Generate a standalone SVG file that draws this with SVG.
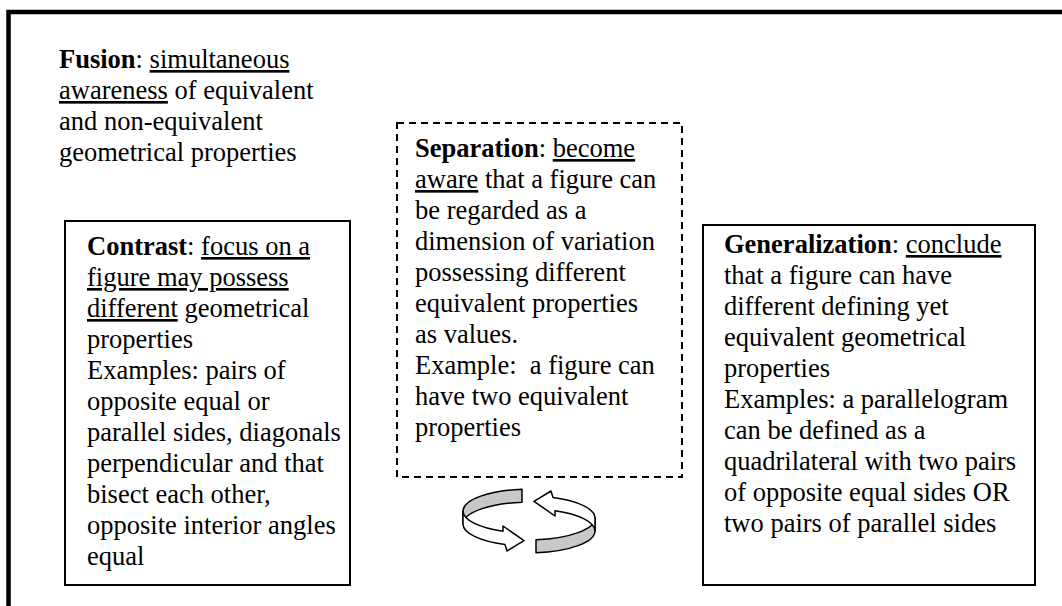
<svg xmlns="http://www.w3.org/2000/svg" width="1062" height="606" viewBox="0 0 1062 606">
<style>
text{font-family:"Liberation Serif","Times New Roman",serif;font-size:26.5px;fill:#000}
.b{font-weight:bold}
.u{text-decoration:underline}
.box{fill:#fff;stroke:#000;stroke-width:2}
.dash{fill:#fff;stroke:#000;stroke-width:2;stroke-dasharray:7 5}
.arw{stroke:#000;stroke-width:1.5;stroke-linejoin:round}
</style>
<defs>
<g id="halfArrow">
<path class="arw" fill="#c8c8c8" d="M522,489.2 A66,22 0 0,0 463,511 L463,524 A66,22 0 0,1 522,502.2 Z"/>
<path class="arw" fill="#fff" d="M463,511 A66,22 0 0,0 503,531.2 L503,526 L524,540.7 L507,551 L505,544.5 A66,22 0 0,1 463,524 Z"/>
</g>
</defs>
<rect width="1062" height="606" fill="#fff"/>
<path d="M8.5,606 V12 H1062" fill="none" stroke="#000" stroke-width="4.5"/>

<g id="fusion">
<text x="59" y="68"><tspan class="b">Fusion</tspan>: <tspan class="u">simultaneous</tspan></text>
<text x="59" y="99"><tspan class="u">awareness</tspan> of equivalent</text>
<text x="59" y="130">and non-equivalent</text>
<text x="59" y="161">geometrical properties</text>
</g>

<g id="separation">
<rect class="dash" x="397" y="123" width="285" height="354"/>
<text x="415" y="157"><tspan class="b">Separation</tspan>: <tspan class="u">become</tspan></text>
<text x="415" y="188"><tspan class="u">aware</tspan> that a figure can</text>
<text x="415" y="219">be regarded as a</text>
<text x="415" y="250">dimension of variation</text>
<text x="415" y="281">possessing different</text>
<text x="415" y="312">equivalent properties</text>
<text x="415" y="343">as values.</text>
<text x="415" y="374">Example: &#160;a figure can</text>
<text x="415" y="405">have two equivalent</text>
<text x="415" y="436">properties</text>
</g>

<g id="contrast">
<rect class="box" x="65" y="221" width="285" height="364"/>
<text x="87" y="255"><tspan class="b">Contrast</tspan>: <tspan class="u">focus on a</tspan></text>
<text x="87" y="286"><tspan class="u">figure may possess</tspan></text>
<text x="87" y="317"><tspan class="u">different</tspan> geometrical</text>
<text x="87" y="348">properties</text>
<text x="87" y="379">Examples: pairs of</text>
<text x="87" y="410">opposite equal or</text>
<text x="87" y="441">parallel sides, diagonals</text>
<text x="87" y="472">perpendicular and that</text>
<text x="87" y="503">bisect each other,</text>
<text x="87" y="534">opposite interior angles</text>
<text x="87" y="565">equal</text>
</g>

<g id="generalization">
<rect class="box" x="703" y="225" width="332" height="360"/>
<text x="724" y="253"><tspan class="b">Generalization</tspan>: <tspan class="u">conclude</tspan></text>
<text x="724" y="284">that a figure can have</text>
<text x="724" y="315">different defining yet</text>
<text x="724" y="346">equivalent geometrical</text>
<text x="724" y="377">properties</text>
<text x="724" y="408">Examples: a parallelogram</text>
<text x="724" y="439">can be defined as a</text>
<text x="724" y="470">quadrilateral with two pairs</text>
<text x="724" y="501">of opposite equal sides OR</text>
<text x="724" y="532">two pairs of parallel sides</text>
</g>

<g id="connectors">
<use href="#halfArrow"/>
<use href="#halfArrow" transform="rotate(180 529 521)"/>
</g>
</svg>
